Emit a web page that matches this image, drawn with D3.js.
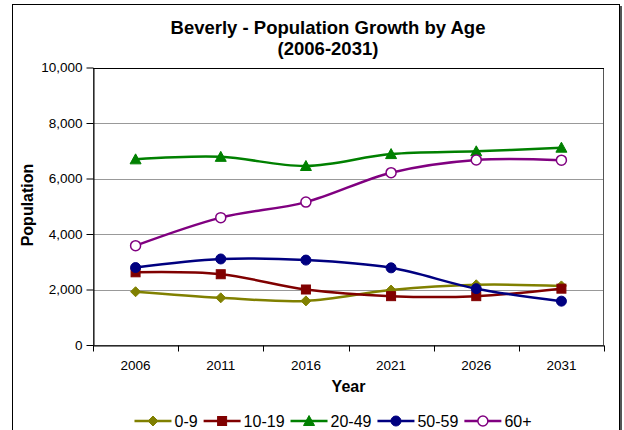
<!DOCTYPE html>
<html><head><meta charset="utf-8">
<script src="https://cdn.jsdelivr.net/npm/d3@7"></script>
<style>body{margin:0;background:#fff}svg{display:block;font-family:"Liberation Sans",Arial,sans-serif}</style>
</head><body><svg id="c" width="624" height="430"></svg>
<script>
const years = ["2006","2011","2016","2021","2026","2031"];
const ageGroups = ["0-9","10-19","20-49","50-59","60+"];
const pop0to9   = [1920,1700,1590,1980,2170,2130];
const pop10to19 = [2620,2550,2000,1760,1760,2030];
const pop20to49 = [6690,6780,6450,6880,6980,7110];
const pop50to59 = [2790,3100,3060,2780,2030,1580];
const pop60plus = [3580,4590,5150,6210,6670,6660];
const yTicks = [0,2000,4000,6000,8000,10000];
const titleLines = ["Beverly - Population Growth by Age","(2006-2031)"];

const seriesValues = [pop0to9,pop10to19,pop20to49,pop50to59,pop60plus];
const colors = ["#808000","#800000","#008000","#000080","#800080"];
const markers = ["diamond","square","triangle","circle","opencircle"];

const svg = d3.select("#c");
const L=93, R=604, T=67.5, B=345;
const x = d3.scaleBand().domain(years).range([L,R]);
const cx = d => x(d)+x.bandwidth()/2;
const y = d3.scaleLinear().domain([0,10000]).range([B,T]);

// outer chart border
svg.append("rect").attr("x",12.5).attr("y",4.5).attr("width",607).attr("height",440)
  .attr("fill","#fff").attr("stroke","#000").attr("stroke-width",1);
svg.append("line").attr("x1",621).attr("x2",621).attr("y1",6).attr("y2",430)
  .attr("stroke","#555").attr("stroke-width",2);

// title
svg.append("g").selectAll("text").data(titleLines).join("text")
  .attr("x",328).attr("y",(d,i)=>34+i*21).attr("text-anchor","middle")
  .attr("font-size",18.5).attr("font-weight","bold").text(d=>d);

// gridlines
svg.append("g").selectAll("line").data(yTicks.filter(v=>v>0)).join("line")
  .attr("x1",L).attr("x2",R).attr("y1",d=>Math.round(y(d))+0.5).attr("y2",d=>Math.round(y(d))+0.5)
  .attr("stroke","#999").attr("stroke-width",1);
// plot border
svg.append("rect").attr("x",L+0.5).attr("y",Math.round(T)+0.5).attr("width",R-L-1).attr("height",Math.round(B)-Math.round(T))
  .attr("fill","none").attr("stroke","#555");
svg.append("line").attr("x1",L).attr("x2",R).attr("y1",Math.round(T)+0.5).attr("y2",Math.round(T)+0.5).attr("stroke","#000");

// y axis
const ya = svg.append("g").attr("transform",`translate(${L+0.5},0)`)
  .call(d3.axisLeft(y).tickValues(yTicks).tickFormat(d3.format(",")).tickSize(7).tickSizeOuter(0).tickPadding(4));
ya.selectAll("text").attr("font-size",13.5).attr("font-family","Liberation Sans, Arial, sans-serif").attr("fill","#000");
ya.select(".domain").attr("stroke","#000");
ya.selectAll(".tick line").attr("stroke","#000");

// x axis
const xa = svg.append("g").attr("transform",`translate(0,${Math.round(B)+0.5})`)
  .call(d3.axisBottom(x).tickSize(0).tickPadding(15));
xa.selectAll("text").attr("font-size",13.5).attr("font-family","Liberation Sans, Arial, sans-serif").attr("fill","#000");
xa.select(".domain").attr("stroke","#000");
const bounds = years.map(d=>x(d)).concat([x(years[years.length-1])+x.bandwidth()]);
xa.selectAll(".bt").data(bounds).join("line").attr("class","bt")
  .attr("x1",d=>Math.round(d)+0.5).attr("x2",d=>Math.round(d)+0.5).attr("y1",0).attr("y2",6).attr("stroke","#000");

// axis titles
svg.append("text").attr("x",(L+R)/2).attr("y",392).attr("text-anchor","middle")
  .attr("font-size",16).attr("font-weight","bold").text("Year");
svg.append("text").attr("transform","translate(33,205) rotate(-90)").attr("text-anchor","middle")
  .attr("font-size",16).attr("font-weight","bold").text("Population");

function drawMarker(g, type, color){
  if(type==="diamond") g.append("path").attr("d","M0,-5L5,0L0,5L-5,0Z").attr("fill",color).attr("stroke",color);
  else if(type==="square") g.append("rect").attr("x",-4.5).attr("y",-4.5).attr("width",9).attr("height",9).attr("fill",color).attr("stroke",color);
  else if(type==="triangle") g.append("path").attr("d","M0,-5.5L5.5,4.5L-5.5,4.5Z").attr("fill",color).attr("stroke",color);
  else if(type==="circle") g.append("circle").attr("r",5).attr("fill",color).attr("stroke",color);
  else g.append("circle").attr("r",5).attr("fill","#fff").attr("stroke",color).attr("stroke-width",1.5);
}

const line = d3.line().x((d,i)=>cx(years[i])).y(d=>y(d)).curve(d3.curveCatmullRom.alpha(0));
seriesValues.forEach((vals,si)=>{
  const g = svg.append("g");
  g.append("path").attr("d",line(vals)).attr("fill","none").attr("stroke",colors[si]).attr("stroke-width",2.5);
  vals.forEach((v,i)=>{
    const m = g.append("g").attr("transform",`translate(${cx(years[i])},${y(v)})`);
    drawMarker(m, markers[si], colors[si]);
  });
});

// legend
const lg = svg.append("g");
let lx = 0;
ageGroups.forEach((name,i)=>{
  const it = lg.append("g").attr("transform",`translate(${lx},0)`);
  it.append("line").attr("x1",0).attr("x2",37).attr("y1",0).attr("y2",0).attr("stroke",colors[i]).attr("stroke-width",2.5);
  const m = it.append("g").attr("transform","translate(18.5,0)");
  drawMarker(m, markers[i], colors[i]);
  const t = it.append("text").attr("x",40).attr("y",6).attr("font-size",16).text(name);
  const w = t.node().getComputedTextLength();
  lx += 40 + w + 6;
});
const totalW = lx-6;
lg.attr("transform",`translate(${333-totalW/2},421)`);
</script></body></html>
